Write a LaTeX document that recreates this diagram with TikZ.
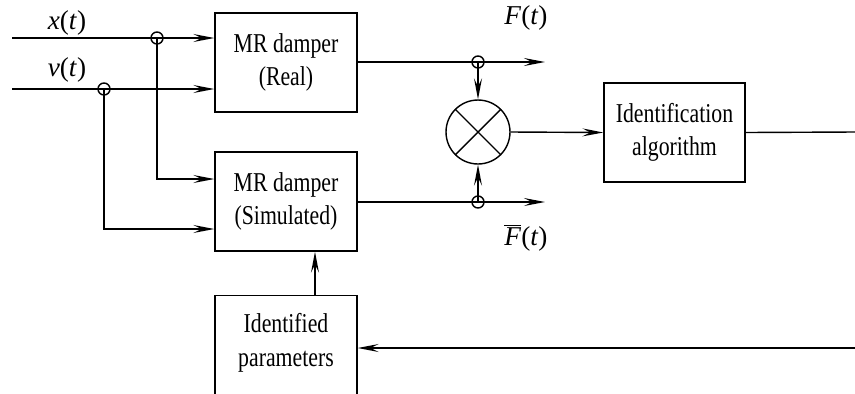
\documentclass[tikz,border=0pt]{standalone}
\usepackage{fontspec}
\setmainfont{Liberation Serif}
\usetikzlibrary{arrows.meta}
\usetikzlibrary{positioning}
\newcommand{\narrowtext}[1]{\scalebox{0.8}[1]{\begin{tabular}{@{}c@{}}#1\end{tabular}}}

\begin{document}
\begin{tikzpicture}[x=0.02cm, y=-0.02cm, line width=0.8pt,
    every node/.style={font=\fontsize{15.5}{19}\selectfont},
    block/.style={draw, rectangle, minimum width=2.84cm, minimum height=1.98cm, align=center},
    tap/.style={draw, circle, inner sep=0pt, minimum size=0.24cm},
    sig/.style={-{Stealth[length=0.42cm, width=0.16cm, inset=0.16cm]}}]
        \clip (0,0) rectangle (855,393);
        % blocks
        \node[block] (real) at (286,62.5) {\narrowtext{MR damper\\(Real)}};
        \node[block] (sim) at (286,201.5) {\narrowtext{MR damper\\(Simulated)}};
        \node[block, minimum width=2.82cm] (alg) at (674.5,132.5) {\narrowtext{Identification\\algorithm}};
        \node[draw, minimum width=2.84cm, minimum height=2.6cm, anchor=north] (parbox) at (286,295) {};
        \node (par) at (286,343) {\narrowtext{Identified\\parameters}};
        \node[draw, circle, inner sep=0pt, minimum size=1.28cm] (sum) at (478,132) {};
        \draw (sum.45) -- (sum.225);
        \draw (sum.135) -- (sum.315);
        % inputs
        \coordinate (xin) at (12,38);
        \coordinate (vin) at (12,89);
        \node (xlab) at (67,23) {\textit{x}(\textit{t})};
        \node (vlab) at (67,70) {\textit{v}(\textit{t})};
        \node[tap] (xj) at (157,38) {};
        \node[tap] (vj) at (104,89) {};
        \draw[sig] (xin) -- (xin -| real.west);
        \draw[sig] (vin) -- (vin -| real.west);
        \draw[sig] (xj.center) |- ([yshift=0.45cm]sim.west);
        \draw[sig] (vj.center) |- ([yshift=-0.55cm]sim.west);
        % outputs
        \coordinate (fout) at (545,62);
        \coordinate (fsout) at (545,202);
        \node[tap] (fj) at (478,62) {};
        \node[tap] (fsj) at (478,202) {};
        \draw[sig] (real.east |- fout) -- (fout);
        \draw[sig] (sim.east |- fsout) -- (fsout);
        \node (flab) at (526,18) {\textit{F}(\textit{t})};
        \node (fslab) at (526,238) {$\overline{\hbox{\textit{F}}}$(\textit{t})};
        \draw[sig] (fj.center) -- (sum.north);
        \draw[sig] (fsj.center) -- (sum.south);
        \draw[sig] (sum.east) -- (alg.west);
        % feedback
        \coordinate (aout) at (855,132);
        \coordinate (fb) at (855,348);
        \draw (alg.east) -- (aout);
        \draw[sig] (fb) -- (fb -| parbox.east);
        \draw[sig] ([xshift=0.58cm]parbox.north) -- ([xshift=0.58cm]sim.south);
\end{tikzpicture}
\end{document}
